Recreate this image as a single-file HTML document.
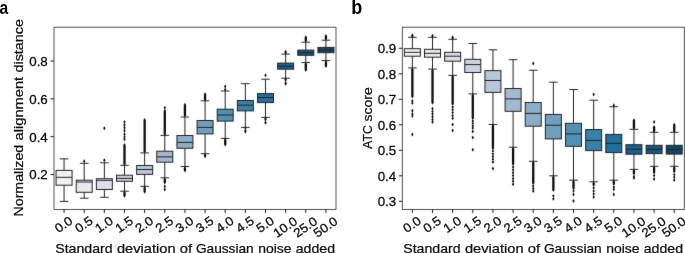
<!DOCTYPE html>
<html><head><meta charset="utf-8"><style>
html,body{margin:0;padding:0;background:#fff;}
body{width:685px;height:253px;overflow:hidden;}
svg{display:block;}
text{filter:grayscale(1);}
text{font-family:"Liberation Sans",sans-serif;fill:#111;stroke:#111;stroke-width:0.1px;}
.tl{font-size:12.5px;stroke-width:0.3px;}
.al{font-size:13.4px;stroke-width:0.25px;}
.pl{font-size:19px;font-weight:bold;fill:#000;stroke:none;}
</style></head><body>
<svg width="685" height="253" viewBox="0 0 685 253">
<defs><filter id="bl" filterUnits="userSpaceOnUse" x="0" y="0" width="685" height="253" color-interpolation-filters="sRGB"><feConvolveMatrix order="3" kernelMatrix="0.0052 0.0619 0.0052 0.0619 0.7314 0.0619 0.0052 0.0619 0.0052" divisor="1"/></filter></defs>
<rect width="685" height="253" fill="#fff"/>
<g filter="url(#bl)">
<rect x="54.0" y="27.2" width="282.00" height="182.25" fill="none" stroke="#262626" stroke-width="0.8"/>
<path d="M50.50 174.50H54.00M50.50 136.67H54.00M50.50 98.83H54.00M50.50 61.00H54.00M64.07 209.45V212.95M84.21 209.45V212.95M104.36 209.45V212.95M124.50 209.45V212.95M144.64 209.45V212.95M164.79 209.45V212.95M184.93 209.45V212.95M205.07 209.45V212.95M225.21 209.45V212.95M245.36 209.45V212.95M265.50 209.45V212.95M285.64 209.45V212.95M305.79 209.45V212.95M325.93 209.45V212.95" stroke="#111" stroke-width="0.95"/>
<path d="M64.07 170.40V158.90M59.77 158.90H68.37M64.07 185.20V201.40M59.77 201.40H68.37" stroke="#242424" stroke-width="1.0" fill="none"/>
<rect x="56.07" y="170.40" width="16.00" height="14.80" fill="#f4eff5" stroke="#242424" stroke-width="1.0"/>
<path d="M56.07 177.30H72.07" stroke="#242424" stroke-width="1.0"/>
<path d="M84.21 180.20V163.30M79.91 163.30H88.51M84.21 192.30V198.20M79.91 198.20H88.51" stroke="#242424" stroke-width="1.0" fill="none"/>
<rect x="76.21" y="180.20" width="16.00" height="12.10" fill="#eae7f0" stroke="#242424" stroke-width="1.0"/>
<path d="M76.21 182.00H92.21" stroke="#242424" stroke-width="1.0"/>
<path d="M104.36 178.70V162.80M100.06 162.80H108.66M104.36 189.50V197.30M100.06 197.30H108.66" stroke="#242424" stroke-width="1.0" fill="none"/>
<rect x="96.36" y="178.70" width="16.00" height="10.80" fill="#dddce9" stroke="#242424" stroke-width="1.0"/>
<path d="M96.36 180.30H112.36" stroke="#242424" stroke-width="1.0"/>
<path d="M124.50 175.20V165.30M120.20 165.30H128.80M124.50 181.30V191.20M120.20 191.20H128.80" stroke="#242424" stroke-width="1.0" fill="none"/>
<rect x="116.50" y="175.20" width="16.00" height="6.10" fill="#ced1e1" stroke="#242424" stroke-width="1.0"/>
<path d="M116.50 178.40H132.50" stroke="#242424" stroke-width="1.0"/>
<path d="M144.64 165.50V152.90M140.34 152.90H148.94M144.64 174.40V186.30M140.34 186.30H148.94" stroke="#242424" stroke-width="1.0" fill="none"/>
<rect x="136.64" y="165.50" width="16.00" height="8.90" fill="#b9c5d9" stroke="#242424" stroke-width="1.0"/>
<path d="M136.64 169.50H152.64" stroke="#242424" stroke-width="1.0"/>
<path d="M164.79 151.20V135.40M160.49 135.40H169.09M164.79 162.20V177.80M160.49 177.80H169.09" stroke="#242424" stroke-width="1.0" fill="none"/>
<rect x="156.79" y="151.20" width="16.00" height="11.00" fill="#a4b9d1" stroke="#242424" stroke-width="1.0"/>
<path d="M156.79 156.90H172.79" stroke="#242424" stroke-width="1.0"/>
<path d="M184.93 135.50V117.00M180.63 117.00H189.23M184.93 148.30V166.50M180.63 166.50H189.23" stroke="#242424" stroke-width="1.0" fill="none"/>
<rect x="176.93" y="135.50" width="16.00" height="12.80" fill="#8badc8" stroke="#242424" stroke-width="1.0"/>
<path d="M176.93 142.40H192.93" stroke="#242424" stroke-width="1.0"/>
<path d="M205.07 120.50V100.80M200.77 100.80H209.37M205.07 133.90V153.70M200.77 153.70H209.37" stroke="#242424" stroke-width="1.0" fill="none"/>
<rect x="197.07" y="120.50" width="16.00" height="13.40" fill="#70a0be" stroke="#242424" stroke-width="1.0"/>
<path d="M197.07 127.40H213.07" stroke="#242424" stroke-width="1.0"/>
<path d="M225.21 109.20V91.00M220.91 91.00H229.51M225.21 121.10V138.40M220.91 138.40H229.51" stroke="#242424" stroke-width="1.0" fill="none"/>
<rect x="217.21" y="109.20" width="16.00" height="11.90" fill="#5290b3" stroke="#242424" stroke-width="1.0"/>
<path d="M217.21 115.00H233.21" stroke="#242424" stroke-width="1.0"/>
<path d="M245.36 100.50V83.70M241.06 83.70H249.66M245.36 110.90V127.40M241.06 127.40H249.66" stroke="#242424" stroke-width="1.0" fill="none"/>
<rect x="237.36" y="100.50" width="16.00" height="10.40" fill="#3880a8" stroke="#242424" stroke-width="1.0"/>
<path d="M237.36 105.20H253.36" stroke="#242424" stroke-width="1.0"/>
<path d="M265.50 93.60V79.20M261.20 79.20H269.80M265.50 102.60V117.40M261.20 117.40H269.80" stroke="#242424" stroke-width="1.0" fill="none"/>
<rect x="257.50" y="93.60" width="16.00" height="9.00" fill="#206f9d" stroke="#242424" stroke-width="1.0"/>
<path d="M257.50 97.50H273.50" stroke="#242424" stroke-width="1.0"/>
<path d="M285.64 63.10V54.10M281.34 54.10H289.94M285.64 69.20V78.20M281.34 78.20H289.94" stroke="#242424" stroke-width="1.0" fill="none"/>
<rect x="277.64" y="63.10" width="16.00" height="6.10" fill="#18628e" stroke="#242424" stroke-width="1.0"/>
<path d="M277.64 66.30H293.64" stroke="#242424" stroke-width="1.0"/>
<path d="M305.79 50.10V42.20M301.49 42.20H310.09M305.79 55.30V62.60M301.49 62.60H310.09" stroke="#242424" stroke-width="1.0" fill="none"/>
<rect x="297.79" y="50.10" width="16.00" height="5.20" fill="#15577e" stroke="#242424" stroke-width="1.0"/>
<path d="M297.79 52.70H313.79" stroke="#242424" stroke-width="1.0"/>
<path d="M325.93 47.40V40.20M321.63 40.20H330.23M325.93 52.70V60.60M321.63 60.60H330.23" stroke="#242424" stroke-width="1.0" fill="none"/>
<rect x="317.93" y="47.40" width="16.00" height="5.30" fill="#114766" stroke="#242424" stroke-width="1.0"/>
<path d="M317.93 50.10H333.93" stroke="#242424" stroke-width="1.0"/>
<path d="M84.21 159.20L85.36 161.20L84.21 163.20L83.06 161.20ZM104.36 126.30L105.51 128.30L104.36 130.30L103.21 128.30ZM104.36 158.30L105.51 160.30L104.36 162.30L103.21 160.30ZM124.50 119.90L125.65 121.90L124.50 123.90L123.35 121.90ZM124.50 122.90L125.65 124.90L124.50 126.90L123.35 124.90ZM124.50 125.80L125.65 127.80L124.50 129.80L123.35 127.80ZM124.50 128.80L125.65 130.80L124.50 132.80L123.35 130.80ZM124.50 132.20L125.65 134.20L124.50 136.20L123.35 134.20ZM124.50 135.10L125.65 137.10L124.50 139.10L123.35 137.10ZM124.50 137.30L125.65 139.30L124.50 141.30L123.35 139.30ZM124.50 143.10L125.65 145.10L125.65 163.90L124.50 165.90L123.35 163.90L123.35 145.10ZM124.50 190.60L125.65 192.60L125.65 195.80L124.50 197.80L123.35 195.80L123.35 192.60ZM144.64 118.00L145.79 120.00L145.79 151.50L144.64 153.50L143.49 151.50L143.49 120.00ZM144.64 185.70L145.79 187.70L145.79 191.80L144.64 193.80L143.49 191.80L143.49 187.70ZM164.79 105.70L165.94 107.70L164.79 109.70L163.64 107.70ZM164.79 109.10L165.94 111.10L165.94 134.00L164.79 136.00L163.64 134.00L163.64 111.10ZM164.79 177.20L165.94 179.20L165.94 182.60L164.79 184.60L163.64 182.60L163.64 179.20ZM164.79 184.50L165.94 186.50L164.79 188.50L163.64 186.50ZM164.79 187.60L165.94 189.60L164.79 191.60L163.64 189.60ZM184.93 102.70L186.08 104.70L186.08 115.60L184.93 117.60L183.78 115.60L183.78 104.70ZM184.93 165.90L186.08 167.90L186.08 170.40L184.93 172.40L183.78 170.40L183.78 167.90ZM205.07 92.20L206.22 94.20L206.22 99.40L205.07 101.40L203.92 99.40L203.92 94.20ZM205.07 153.10L206.22 155.10L206.22 156.20L205.07 158.20L203.92 156.20L203.92 155.10ZM225.21 84.50L226.36 86.50L225.21 88.50L224.06 86.50ZM225.21 87.60L226.36 89.60L225.21 91.60L224.06 89.60ZM225.21 137.80L226.36 139.80L226.36 144.40L225.21 146.40L224.06 144.40L224.06 139.80ZM245.36 126.80L246.51 128.80L246.51 127.60L245.36 129.60L244.21 127.60L244.21 128.80ZM245.36 128.40L246.51 130.40L245.36 132.40L244.21 130.40ZM245.36 129.80L246.51 131.80L245.36 133.80L244.21 131.80ZM265.50 73.20L266.65 75.20L265.50 77.20L264.35 75.20ZM265.50 116.80L266.65 118.80L266.65 119.60L265.50 121.60L264.35 119.60L264.35 118.80ZM265.50 120.40L266.65 122.40L265.50 124.40L264.35 122.40ZM265.50 120.70L266.65 122.70L265.50 124.70L264.35 122.70ZM285.64 49.70L286.79 51.70L286.79 52.70L285.64 54.70L284.49 52.70L284.49 51.70ZM285.64 77.60L286.79 79.60L286.79 80.10L285.64 82.10L284.49 80.10L284.49 79.60ZM285.64 80.90L286.79 82.90L285.64 84.90L284.49 82.90ZM285.64 81.70L286.79 83.70L285.64 85.70L284.49 83.70ZM305.79 35.30L306.94 37.30L306.94 40.80L305.79 42.80L304.64 40.80L304.64 37.30ZM305.79 62.00L306.94 64.00L306.94 70.10L305.79 72.10L304.64 70.10L304.64 64.00ZM325.93 33.90L327.08 35.90L327.08 38.80L325.93 40.80L324.78 38.80L324.78 35.90ZM325.93 60.00L327.08 62.00L327.08 66.10L325.93 68.10L324.78 66.10L324.78 62.00Z" fill="#0d0d0d"/>
<rect x="402.3" y="27.2" width="282.00" height="182.25" fill="none" stroke="#262626" stroke-width="0.8"/>
<path d="M398.80 201.30H402.30M398.80 175.80H402.30M398.80 150.30H402.30M398.80 124.80H402.30M398.80 99.30H402.30M398.80 73.80H402.30M398.80 48.30H402.30M412.37 209.45V212.95M432.51 209.45V212.95M452.66 209.45V212.95M472.80 209.45V212.95M492.94 209.45V212.95M513.09 209.45V212.95M533.23 209.45V212.95M553.37 209.45V212.95M573.51 209.45V212.95M593.66 209.45V212.95M613.80 209.45V212.95M633.94 209.45V212.95M654.09 209.45V212.95M674.23 209.45V212.95" stroke="#111" stroke-width="0.95"/>
<path d="M412.37 48.70V37.30M408.07 37.30H416.67M412.37 56.20V67.90M408.07 67.90H416.67" stroke="#242424" stroke-width="1.0" fill="none"/>
<rect x="404.37" y="48.70" width="16.00" height="7.50" fill="#f4eff5" stroke="#242424" stroke-width="1.0"/>
<path d="M404.37 52.30H420.37" stroke="#242424" stroke-width="1.0"/>
<path d="M432.51 49.30V37.30M428.21 37.30H436.81M432.51 57.20V69.10M428.21 69.10H436.81" stroke="#242424" stroke-width="1.0" fill="none"/>
<rect x="424.51" y="49.30" width="16.00" height="7.90" fill="#eae7f0" stroke="#242424" stroke-width="1.0"/>
<path d="M424.51 53.30H440.51" stroke="#242424" stroke-width="1.0"/>
<path d="M452.66 52.30V39.30M448.36 39.30H456.96M452.66 61.20V75.40M448.36 75.40H456.96" stroke="#242424" stroke-width="1.0" fill="none"/>
<rect x="444.66" y="52.30" width="16.00" height="8.90" fill="#dddce9" stroke="#242424" stroke-width="1.0"/>
<path d="M444.66 56.20H460.66" stroke="#242424" stroke-width="1.0"/>
<path d="M472.80 59.30V43.50M468.50 43.50H477.10M472.80 72.50V93.90M468.50 93.90H477.10" stroke="#242424" stroke-width="1.0" fill="none"/>
<rect x="464.80" y="59.30" width="16.00" height="13.20" fill="#ced1e1" stroke="#242424" stroke-width="1.0"/>
<path d="M464.80 64.60H480.80" stroke="#242424" stroke-width="1.0"/>
<path d="M492.94 70.60V49.80M488.64 49.80H497.24M492.94 92.40V124.50M488.64 124.50H497.24" stroke="#242424" stroke-width="1.0" fill="none"/>
<rect x="484.94" y="70.60" width="16.00" height="21.80" fill="#b9c5d9" stroke="#242424" stroke-width="1.0"/>
<path d="M484.94 80.50H500.94" stroke="#242424" stroke-width="1.0"/>
<path d="M513.09 88.50V59.70M508.79 59.70H517.39M513.09 111.30V147.20M508.79 147.20H517.39" stroke="#242424" stroke-width="1.0" fill="none"/>
<rect x="505.09" y="88.50" width="16.00" height="22.80" fill="#a4b9d1" stroke="#242424" stroke-width="1.0"/>
<path d="M505.09 98.90H521.09" stroke="#242424" stroke-width="1.0"/>
<path d="M533.23 102.50V70.20M528.93 70.20H537.53M533.23 126.20V161.30M528.93 161.30H537.53" stroke="#242424" stroke-width="1.0" fill="none"/>
<rect x="525.23" y="102.50" width="16.00" height="23.70" fill="#8badc8" stroke="#242424" stroke-width="1.0"/>
<path d="M525.23 113.40H541.23" stroke="#242424" stroke-width="1.0"/>
<path d="M553.37 114.40V82.20M549.07 82.20H557.67M553.37 138.90V175.80M549.07 175.80H557.67" stroke="#242424" stroke-width="1.0" fill="none"/>
<rect x="545.37" y="114.40" width="16.00" height="24.50" fill="#70a0be" stroke="#242424" stroke-width="1.0"/>
<path d="M545.37 125.20H561.37" stroke="#242424" stroke-width="1.0"/>
<path d="M573.51 123.30V89.50M569.21 89.50H577.81M573.51 146.30V180.20M569.21 180.20H577.81" stroke="#242424" stroke-width="1.0" fill="none"/>
<rect x="565.51" y="123.30" width="16.00" height="23.00" fill="#5290b3" stroke="#242424" stroke-width="1.0"/>
<path d="M565.51 133.90H581.51" stroke="#242424" stroke-width="1.0"/>
<path d="M593.66 129.50V100.20M589.36 100.20H597.96M593.66 150.60V181.80M589.36 181.80H597.96" stroke="#242424" stroke-width="1.0" fill="none"/>
<rect x="585.66" y="129.50" width="16.00" height="21.10" fill="#3880a8" stroke="#242424" stroke-width="1.0"/>
<path d="M585.66 140.40H601.66" stroke="#242424" stroke-width="1.0"/>
<path d="M613.80 134.40V106.70M609.50 106.70H618.10M613.80 152.60V180.20M609.50 180.20H618.10" stroke="#242424" stroke-width="1.0" fill="none"/>
<rect x="605.80" y="134.40" width="16.00" height="18.20" fill="#206f9d" stroke="#242424" stroke-width="1.0"/>
<path d="M605.80 143.30H621.80" stroke="#242424" stroke-width="1.0"/>
<path d="M633.94 144.70V129.30M629.64 129.30H638.24M633.94 154.20V169.40M629.64 169.40H638.24" stroke="#242424" stroke-width="1.0" fill="none"/>
<rect x="625.94" y="144.70" width="16.00" height="9.50" fill="#18628e" stroke="#242424" stroke-width="1.0"/>
<path d="M625.94 149.20H641.94" stroke="#242424" stroke-width="1.0"/>
<path d="M654.09 145.30V132.30M649.79 132.30H658.39M654.09 153.60V166.30M649.79 166.30H658.39" stroke="#242424" stroke-width="1.0" fill="none"/>
<rect x="646.09" y="145.30" width="16.00" height="8.30" fill="#15577e" stroke="#242424" stroke-width="1.0"/>
<path d="M646.09 149.40H662.09" stroke="#242424" stroke-width="1.0"/>
<path d="M674.23 145.30V132.30M669.93 132.30H678.53M674.23 154.10V166.30M669.93 166.30H678.53" stroke="#242424" stroke-width="1.0" fill="none"/>
<rect x="666.23" y="145.30" width="16.00" height="8.80" fill="#114766" stroke="#242424" stroke-width="1.0"/>
<path d="M666.23 149.60H682.23" stroke="#242424" stroke-width="1.0"/>
<path d="M412.37 33.30L413.52 35.30L413.52 35.90L412.37 37.90L411.22 35.90L411.22 35.30ZM412.37 67.30L413.52 69.30L413.52 96.50L412.37 98.50L411.22 96.50L411.22 69.30ZM412.37 99.00L413.52 101.00L412.37 103.00L411.22 101.00ZM412.37 101.00L413.52 103.00L412.37 105.00L411.22 103.00ZM412.37 108.70L413.52 110.70L412.37 112.70L411.22 110.70ZM412.37 112.00L413.52 114.00L412.37 116.00L411.22 114.00ZM412.37 114.00L413.52 116.00L412.37 118.00L411.22 116.00ZM412.37 132.40L413.52 134.40L412.37 136.40L411.22 134.40ZM432.51 33.70L433.66 35.70L433.66 35.90L432.51 37.90L431.36 35.90L431.36 35.70ZM432.51 68.50L433.66 70.50L433.66 102.80L432.51 104.80L431.36 102.80L431.36 70.50ZM432.51 106.80L433.66 108.80L432.51 110.80L431.36 108.80ZM432.51 109.46L433.66 111.46L432.51 113.46L431.36 111.46ZM432.51 112.12L433.66 114.12L432.51 116.12L431.36 114.12ZM432.51 114.78L433.66 116.78L432.51 118.78L431.36 116.78ZM432.51 117.44L433.66 119.44L432.51 121.44L431.36 119.44ZM432.51 120.10L433.66 122.10L432.51 124.10L431.36 122.10ZM452.66 35.30L453.81 37.30L453.81 37.90L452.66 39.90L451.51 37.90L451.51 37.30ZM452.66 74.80L453.81 76.80L453.81 104.10L452.66 106.10L451.51 104.10L451.51 76.80ZM452.66 104.90L453.81 106.90L452.66 108.90L451.51 106.90ZM452.66 107.72L453.81 109.72L452.66 111.72L451.51 109.72ZM452.66 110.55L453.81 112.55L452.66 114.55L451.51 112.55ZM452.66 113.38L453.81 115.38L452.66 117.38L451.51 115.38ZM452.66 116.20L453.81 118.20L452.66 120.20L451.51 118.20ZM452.66 122.50L453.81 124.50L452.66 126.50L451.51 124.50ZM452.66 128.40L453.81 130.40L452.66 132.40L451.51 130.40ZM472.80 93.30L473.95 95.30L473.95 118.20L472.80 120.20L471.65 118.20L471.65 95.30ZM472.80 119.00L473.95 121.00L472.80 123.00L471.65 121.00ZM472.80 121.33L473.95 123.33L472.80 125.33L471.65 123.33ZM472.80 123.67L473.95 125.67L472.80 127.67L471.65 125.67ZM472.80 126.00L473.95 128.00L472.80 130.00L471.65 128.00ZM472.80 129.60L473.95 131.60L472.80 133.60L471.65 131.60ZM472.80 135.50L473.95 137.50L472.80 139.50L471.65 137.50ZM472.80 147.70L473.95 149.70L472.80 151.70L471.65 149.70ZM492.94 123.90L494.09 125.90L494.09 148.30L492.94 150.30L491.79 148.30L491.79 125.90ZM492.94 149.10L494.09 151.10L492.94 153.10L491.79 151.10ZM492.94 151.85L494.09 153.85L492.94 155.85L491.79 153.85ZM492.94 154.60L494.09 156.60L492.94 158.60L491.79 156.60ZM492.94 157.35L494.09 159.35L492.94 161.35L491.79 159.35ZM492.94 160.10L494.09 162.10L492.94 164.10L491.79 162.10ZM492.94 166.50L494.09 168.50L492.94 170.50L491.79 168.50ZM513.09 146.60L514.24 148.60L514.24 164.10L513.09 166.10L511.94 164.10L511.94 148.60ZM513.09 164.90L514.24 166.90L513.09 168.90L511.94 166.90ZM513.09 167.78L514.24 169.78L513.09 171.78L511.94 169.78ZM513.09 170.67L514.24 172.67L513.09 174.67L511.94 172.67ZM513.09 173.55L514.24 175.55L513.09 177.55L511.94 175.55ZM513.09 176.43L514.24 178.43L513.09 180.43L511.94 178.43ZM513.09 179.32L514.24 181.32L513.09 183.32L511.94 181.32ZM513.09 182.20L514.24 184.20L513.09 186.20L511.94 184.20ZM533.23 61.40L534.38 63.40L533.23 65.40L532.08 63.40ZM533.23 160.70L534.38 162.70L534.38 183.20L533.23 185.20L532.08 183.20L532.08 162.70ZM533.23 184.00L534.38 186.00L533.23 188.00L532.08 186.00ZM533.23 186.55L534.38 188.55L533.23 190.55L532.08 188.55ZM533.23 189.10L534.38 191.10L533.23 193.10L532.08 191.10ZM553.37 175.20L554.52 177.20L554.52 190.10L553.37 192.10L552.22 190.10L552.22 177.20ZM553.37 194.00L554.52 196.00L553.37 198.00L552.22 196.00ZM553.37 196.80L554.52 198.80L553.37 200.80L552.22 198.80ZM573.51 179.60L574.66 181.60L574.66 188.20L573.51 190.20L572.36 188.20L572.36 181.60ZM573.51 189.00L574.66 191.00L573.51 193.00L572.36 191.00ZM573.51 192.50L574.66 194.50L573.51 196.50L572.36 194.50ZM573.51 199.00L574.66 201.00L573.51 203.00L572.36 201.00ZM593.66 92.40L594.81 94.40L593.66 96.40L592.51 94.40ZM593.66 181.20L594.81 183.20L594.81 185.10L593.66 187.10L592.51 185.10L592.51 183.20ZM593.66 185.90L594.81 187.90L593.66 189.90L592.51 187.90ZM593.66 188.97L594.81 190.97L593.66 192.97L592.51 190.97ZM593.66 192.03L594.81 194.03L593.66 196.03L592.51 194.03ZM593.66 195.10L594.81 197.10L593.66 199.10L592.51 197.10ZM613.80 103.20L614.95 105.20L613.80 107.20L612.65 105.20ZM613.80 179.60L614.95 181.60L614.95 184.10L613.80 186.10L612.65 184.10L612.65 181.60ZM613.80 184.90L614.95 186.90L613.80 188.90L612.65 186.90ZM613.80 187.20L614.95 189.20L613.80 191.20L612.65 189.20ZM613.80 192.50L614.95 194.50L613.80 196.50L612.65 194.50ZM633.94 118.20L635.09 120.20L635.09 127.90L633.94 129.90L632.79 127.90L632.79 120.20ZM633.94 168.80L635.09 170.80L635.09 173.60L633.94 175.60L632.79 173.60L632.79 170.80ZM633.94 174.40L635.09 176.40L633.94 178.40L632.79 176.40ZM633.94 175.90L635.09 177.90L633.94 179.90L632.79 177.90ZM654.09 120.10L655.24 122.10L654.09 124.10L652.94 122.10ZM654.09 125.10L655.24 127.10L655.24 130.90L654.09 132.90L652.94 130.90L652.94 127.10ZM654.09 165.70L655.24 167.70L655.24 172.60L654.09 174.60L652.94 172.60L652.94 167.70ZM654.09 173.40L655.24 175.40L654.09 177.40L652.94 175.40ZM654.09 177.00L655.24 179.00L654.09 181.00L652.94 179.00ZM674.23 122.70L675.38 124.70L675.38 130.90L674.23 132.90L673.08 130.90L673.08 124.70ZM674.23 165.70L675.38 167.70L675.38 171.60L674.23 173.60L673.08 171.60L673.08 167.70ZM674.23 172.40L675.38 174.40L674.23 176.40L673.08 174.40ZM674.23 175.25L675.38 177.25L674.23 179.25L673.08 177.25ZM674.23 178.10L675.38 180.10L674.23 182.10L673.08 180.10Z" fill="#0d0d0d"/>
</g>
<text x="47.80" y="179.40" text-anchor="end" class="tl" textLength="18.54" lengthAdjust="spacingAndGlyphs">0.2</text>
<text x="47.80" y="141.57" text-anchor="end" class="tl" textLength="18.54" lengthAdjust="spacingAndGlyphs">0.4</text>
<text x="47.80" y="103.73" text-anchor="end" class="tl" textLength="18.54" lengthAdjust="spacingAndGlyphs">0.6</text>
<text x="47.80" y="65.90" text-anchor="end" class="tl" textLength="18.54" lengthAdjust="spacingAndGlyphs">0.8</text>
<text transform="translate(63.57,224.40) rotate(-35)" text-anchor="middle" y="4.4" class="tl" textLength="18.54" lengthAdjust="spacingAndGlyphs">0.0</text>
<text transform="translate(83.71,224.40) rotate(-35)" text-anchor="middle" y="4.4" class="tl" textLength="18.54" lengthAdjust="spacingAndGlyphs">0.5</text>
<text transform="translate(103.86,224.40) rotate(-35)" text-anchor="middle" y="4.4" class="tl" textLength="18.54" lengthAdjust="spacingAndGlyphs">1.0</text>
<text transform="translate(124.00,224.40) rotate(-35)" text-anchor="middle" y="4.4" class="tl" textLength="18.54" lengthAdjust="spacingAndGlyphs">1.5</text>
<text transform="translate(144.14,224.40) rotate(-35)" text-anchor="middle" y="4.4" class="tl" textLength="18.54" lengthAdjust="spacingAndGlyphs">2.0</text>
<text transform="translate(164.29,224.40) rotate(-35)" text-anchor="middle" y="4.4" class="tl" textLength="18.54" lengthAdjust="spacingAndGlyphs">2.5</text>
<text transform="translate(184.43,224.40) rotate(-35)" text-anchor="middle" y="4.4" class="tl" textLength="18.54" lengthAdjust="spacingAndGlyphs">3.0</text>
<text transform="translate(204.57,224.40) rotate(-35)" text-anchor="middle" y="4.4" class="tl" textLength="18.54" lengthAdjust="spacingAndGlyphs">3.5</text>
<text transform="translate(224.71,224.40) rotate(-35)" text-anchor="middle" y="4.4" class="tl" textLength="18.54" lengthAdjust="spacingAndGlyphs">4.0</text>
<text transform="translate(244.86,224.40) rotate(-35)" text-anchor="middle" y="4.4" class="tl" textLength="18.54" lengthAdjust="spacingAndGlyphs">4.5</text>
<text transform="translate(265.00,224.40) rotate(-35)" text-anchor="middle" y="4.4" class="tl" textLength="18.54" lengthAdjust="spacingAndGlyphs">5.0</text>
<text transform="translate(285.14,227.00) rotate(-35)" text-anchor="middle" y="4.4" class="tl" textLength="25.96" lengthAdjust="spacingAndGlyphs">10.0</text>
<text transform="translate(305.29,227.00) rotate(-35)" text-anchor="middle" y="4.4" class="tl" textLength="25.96" lengthAdjust="spacingAndGlyphs">25.0</text>
<text transform="translate(325.43,227.00) rotate(-35)" text-anchor="middle" y="4.4" class="tl" textLength="25.96" lengthAdjust="spacingAndGlyphs">50.0</text>
<text x="396.20" y="206.20" text-anchor="end" class="tl" textLength="18.54" lengthAdjust="spacingAndGlyphs">0.3</text>
<text x="396.20" y="180.70" text-anchor="end" class="tl" textLength="18.54" lengthAdjust="spacingAndGlyphs">0.4</text>
<text x="396.20" y="155.20" text-anchor="end" class="tl" textLength="18.54" lengthAdjust="spacingAndGlyphs">0.5</text>
<text x="396.20" y="129.70" text-anchor="end" class="tl" textLength="18.54" lengthAdjust="spacingAndGlyphs">0.6</text>
<text x="396.20" y="104.20" text-anchor="end" class="tl" textLength="18.54" lengthAdjust="spacingAndGlyphs">0.7</text>
<text x="396.20" y="78.70" text-anchor="end" class="tl" textLength="18.54" lengthAdjust="spacingAndGlyphs">0.8</text>
<text x="396.20" y="53.20" text-anchor="end" class="tl" textLength="18.54" lengthAdjust="spacingAndGlyphs">0.9</text>
<text transform="translate(411.87,224.40) rotate(-35)" text-anchor="middle" y="4.4" class="tl" textLength="18.54" lengthAdjust="spacingAndGlyphs">0.0</text>
<text transform="translate(432.01,224.40) rotate(-35)" text-anchor="middle" y="4.4" class="tl" textLength="18.54" lengthAdjust="spacingAndGlyphs">0.5</text>
<text transform="translate(452.16,224.40) rotate(-35)" text-anchor="middle" y="4.4" class="tl" textLength="18.54" lengthAdjust="spacingAndGlyphs">1.0</text>
<text transform="translate(472.30,224.40) rotate(-35)" text-anchor="middle" y="4.4" class="tl" textLength="18.54" lengthAdjust="spacingAndGlyphs">1.5</text>
<text transform="translate(492.44,224.40) rotate(-35)" text-anchor="middle" y="4.4" class="tl" textLength="18.54" lengthAdjust="spacingAndGlyphs">2.0</text>
<text transform="translate(512.59,224.40) rotate(-35)" text-anchor="middle" y="4.4" class="tl" textLength="18.54" lengthAdjust="spacingAndGlyphs">2.5</text>
<text transform="translate(532.73,224.40) rotate(-35)" text-anchor="middle" y="4.4" class="tl" textLength="18.54" lengthAdjust="spacingAndGlyphs">3.0</text>
<text transform="translate(552.87,224.40) rotate(-35)" text-anchor="middle" y="4.4" class="tl" textLength="18.54" lengthAdjust="spacingAndGlyphs">3.5</text>
<text transform="translate(573.01,224.40) rotate(-35)" text-anchor="middle" y="4.4" class="tl" textLength="18.54" lengthAdjust="spacingAndGlyphs">4.0</text>
<text transform="translate(593.16,224.40) rotate(-35)" text-anchor="middle" y="4.4" class="tl" textLength="18.54" lengthAdjust="spacingAndGlyphs">4.5</text>
<text transform="translate(613.30,224.40) rotate(-35)" text-anchor="middle" y="4.4" class="tl" textLength="18.54" lengthAdjust="spacingAndGlyphs">5.0</text>
<text transform="translate(633.44,227.00) rotate(-35)" text-anchor="middle" y="4.4" class="tl" textLength="25.96" lengthAdjust="spacingAndGlyphs">10.0</text>
<text transform="translate(653.59,227.00) rotate(-35)" text-anchor="middle" y="4.4" class="tl" textLength="25.96" lengthAdjust="spacingAndGlyphs">25.0</text>
<text transform="translate(673.73,227.00) rotate(-35)" text-anchor="middle" y="4.4" class="tl" textLength="25.96" lengthAdjust="spacingAndGlyphs">50.0</text>
<text x="55.26" y="253.30" class="al" textLength="57.34" lengthAdjust="spacingAndGlyphs">Standard</text>
<text x="116.95" y="253.30" class="al" textLength="58.59" lengthAdjust="spacingAndGlyphs">deviation</text>
<text x="179.76" y="253.30" class="al" textLength="12.33" lengthAdjust="spacingAndGlyphs">of</text>
<text x="195.91" y="253.30" class="al" textLength="57.83" lengthAdjust="spacingAndGlyphs">Gaussian</text>
<text x="258.17" y="253.30" class="al" textLength="33.37" lengthAdjust="spacingAndGlyphs">noise</text>
<text x="295.78" y="253.30" class="al" textLength="39.22" lengthAdjust="spacingAndGlyphs">added</text>
<text x="403.26" y="253.30" class="al" textLength="57.34" lengthAdjust="spacingAndGlyphs">Standard</text>
<text x="464.95" y="253.30" class="al" textLength="58.59" lengthAdjust="spacingAndGlyphs">deviation</text>
<text x="527.76" y="253.30" class="al" textLength="12.33" lengthAdjust="spacingAndGlyphs">of</text>
<text x="543.91" y="253.30" class="al" textLength="57.83" lengthAdjust="spacingAndGlyphs">Gaussian</text>
<text x="606.17" y="253.30" class="al" textLength="33.37" lengthAdjust="spacingAndGlyphs">noise</text>
<text x="643.78" y="253.30" class="al" textLength="39.22" lengthAdjust="spacingAndGlyphs">added</text>
<text transform="translate(23.20,216.46) rotate(-90)" class="al" textLength="71.65" lengthAdjust="spacingAndGlyphs">Normalized</text>
<text transform="translate(23.20,140.43) rotate(-90)" class="al" textLength="63.59" lengthAdjust="spacingAndGlyphs">alignment</text>
<text transform="translate(23.20,72.53) rotate(-90)" class="al" textLength="53.47" lengthAdjust="spacingAndGlyphs">distance</text>
<text transform="translate(371.80,148.72) rotate(-90)" class="al" textLength="23.37" lengthAdjust="spacingAndGlyphs">ATC</text>
<text transform="translate(371.80,121.39) rotate(-90)" class="al" textLength="34.11" lengthAdjust="spacingAndGlyphs">score</text>
<text transform="translate(-0.6,14.3) scale(0.82,1.0)" class="pl">a</text>
<text transform="translate(351.2,14.1) scale(0.95,1.05)" class="pl">b</text>
</svg>
</body></html>
